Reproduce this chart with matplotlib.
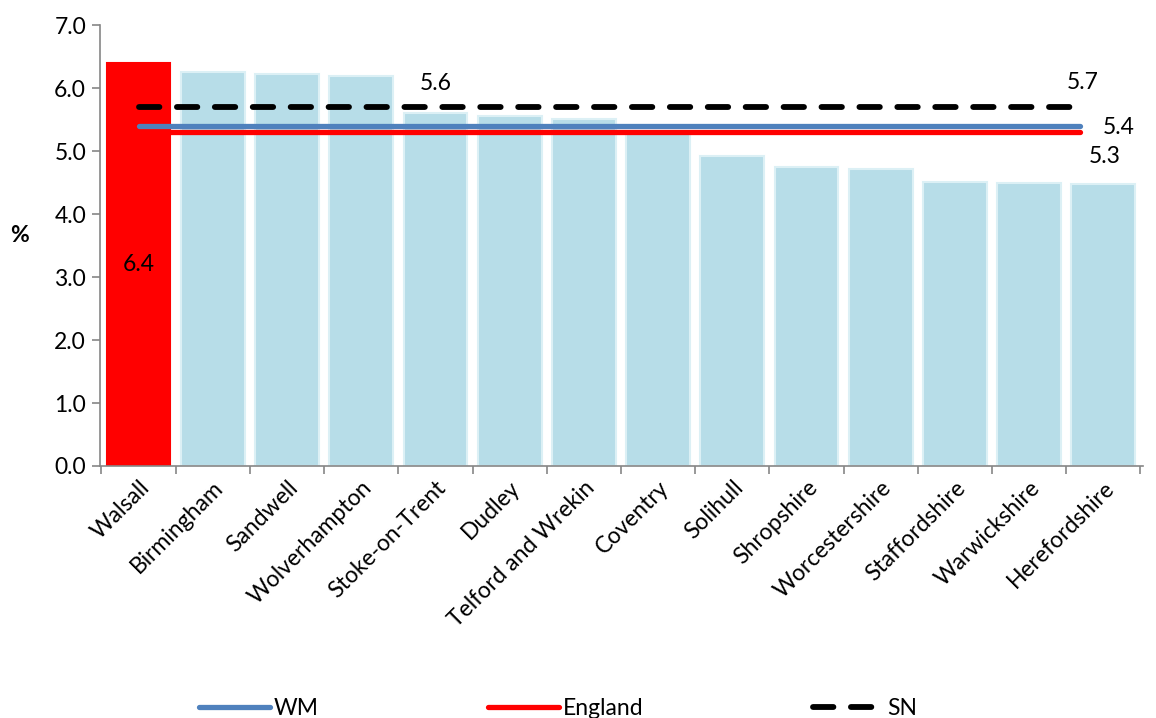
import matplotlib
matplotlib.use("Agg")
import matplotlib.pyplot as plt
import numpy as np

plt.rcParams['font.family'] = ['Lato', 'DejaVu Sans']

areas = ["Walsall", "Birmingham", "Sandwell", "Wolverhampton", "Stoke-on-Trent",
         "Dudley", "Telford and Wrekin", "Coventry", "Solihull", "Shropshire",
         "Worcestershire", "Staffordshire", "Warwickshire", "Herefordshire"]
rates = [6.4, 6.25, 6.22, 6.2, 5.6, 5.56, 5.51, 5.3, 4.92, 4.74, 4.71, 4.51, 4.49, 4.48]
highlight = "Walsall"

wm_rate = 5.4
england_rate = 5.3
sn_rate = 5.7
line_span = [0, 12.68]

blue_bar = "#b7dde8"
grey = "#868686"
fs = 16.5

fig = plt.figure(figsize=(11.56, 7.18), dpi=100)
ax = fig.add_axes([0.0865, 0.351, 0.902, 0.614])

x = np.arange(len(areas))
colors = ["#ff0000" if a == highlight else blue_bar for a in areas]
edges = ["#ff0000" if a == highlight else "#dcf0f5" for a in areas]
ax.bar(x, rates, width=0.86, color=colors, edgecolor=edges, linewidth=1.5, zorder=2)

ax.plot(line_span, [england_rate] * 2, color="#ff0000", lw=3.8,
        solid_capstyle="round", zorder=3, label="England")
ax.plot(line_span, [wm_rate] * 2, color="#4f81bd", lw=3.8,
        solid_capstyle="round", zorder=4, label="WM")
ax.plot(line_span, [sn_rate] * 2, color="black", lw=4.2, dashes=(3.5, 3.0),
        dash_capstyle="round", zorder=5, label="SN")

# value labels
ax.text(0, rates[0] / 2, f"{rates[0]:.1f}", ha="center", va="center", fontsize=fs, zorder=6)
ax.annotate(f"{rates[4]:.1f}", (4, rates[4]), xytext=(0, 14), textcoords="offset points",
            ha="center", va="bottom", fontsize=fs)
ax.annotate(f"{sn_rate:.1f}", (line_span[1], sn_rate), xytext=(2, 10),
            textcoords="offset points", ha="center", va="bottom", fontsize=fs)
ax.annotate(f"{wm_rate:.1f}", (line_span[1], wm_rate), xytext=(28, -1),
            textcoords="offset points", ha="center", va="center", fontsize=fs)
ax.annotate(f"{england_rate:.1f}", (line_span[1], england_rate), xytext=(18, -10),
            textcoords="offset points", ha="center", va="top", fontsize=fs)

ax.set_xlim(-0.52, 13.53)
ax.set_ylim(0, 7)
ax.set_yticks(np.arange(0, 7.01, 1.0))
ax.set_yticklabels([f"{v:.1f}" for v in np.arange(0, 7.01, 1.0)], fontsize=fs)
ax.set_xticks(x)
ax.set_xticklabels(areas, rotation=45, ha="right", rotation_mode="anchor", fontsize=fs)
ax.set_xticks(np.arange(-0.5, len(areas), 1.0), minor=True)
ax.tick_params(axis="x", which="major", length=0, pad=8)
ax.tick_params(axis="x", which="minor", length=6, color=grey, width=1.2)
ax.tick_params(axis="y", length=6, color=grey, width=1.2, pad=4)
for side in ["top", "right"]:
    ax.spines[side].set_visible(False)
for side in ["left", "bottom"]:
    ax.spines[side].set_color(grey)
    ax.spines[side].set_linewidth(1.2)

ax.set_ylabel("%", rotation=0, fontsize=fs, fontweight="bold")
ax.yaxis.set_label_coords(-0.077, 0.5)

handles, labels = ax.get_legend_handles_labels()
order = [1, 0, 2]
fig.legend([handles[i] for i in order], [labels[i] for i in order],
           loc="lower center", bbox_to_anchor=(0.483, -0.03), ncol=3, frameon=False,
           fontsize=fs, handlelength=3.1, handletextpad=0.15, columnspacing=7.4)

fig.savefig("out.png", dpi=100)
